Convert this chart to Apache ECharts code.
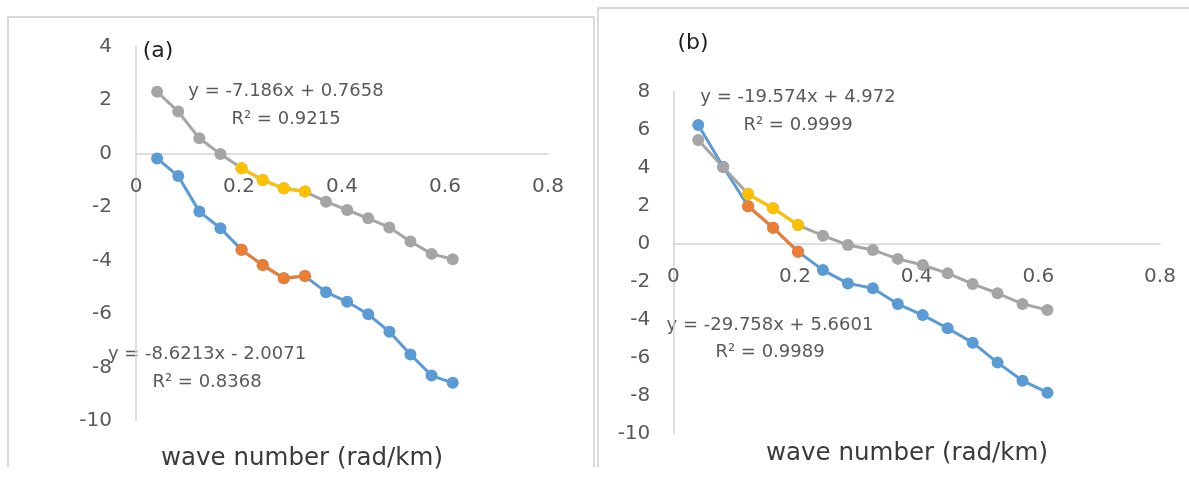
<!DOCTYPE html>
<html>
<head>
<meta charset="utf-8">
<script src="https://cdn.jsdelivr.net/npm/echarts@6/dist/echarts.min.js"></script>
<style>
  html, body { margin: 0; padding: 0; background: #ffffff; }
  #chart { width: 1189px; height: 485px; }
</style>
</head>
<body>
<div id="chart"></div>
<script>
// Wave numbers (rad/km) shared by both spectra
const waveNumber = [0.041, 0.082, 0.123, 0.164, 0.205, 0.246, 0.287, 0.328,
                    0.369, 0.410, 0.451, 0.492, 0.533, 0.574, 0.615];

// Panel (a): LN(P(K)^1/2)
const aLower = [-0.19, -0.85, -2.18, -2.80, -3.61, -4.18, -4.67, -4.59,
                -5.19, -5.55, -6.02, -6.67, -7.52, -8.31, -8.58];
const aUpper = [2.30, 1.56, 0.56, -0.03, -0.56, -1.00, -1.31, -1.43,
                -1.81, -2.12, -2.43, -2.77, -3.30, -3.76, -3.96];
const aFitRange = [4, 8];   // indices of the fitted segment

// Panel (b): LN(P(K)^1/2/k)
const bLower = [6.23, 4.03, 1.95, 0.82, -0.44, -1.41, -2.11, -2.37,
                -3.20, -3.78, -4.47, -5.23, -6.28, -7.23, -7.86];
const bUpper = [5.44, 4.00, 2.59, 1.84, 0.96, 0.40, -0.09, -0.35,
                -0.82, -1.14, -1.58, -2.14, -2.63, -3.19, -3.51];
const bFitRange = [2, 5];

// Axis ticks
const xTicks = { min: 0, max: 0.8, interval: 0.2 };
const yTicksA = { min: -10, max: 4, interval: 2 };
const yTicksB = { min: -10, max: 8, interval: 2 };

// Trendline labels
const eqA1 = ['y = -7.186x + 0.7658', 'R² = 0.9215'];
const eqA2 = ['y = -8.6213x - 2.0071', 'R² = 0.8368'];
const eqB1 = ['y = -19.574x + 4.972', 'R² = 0.9999'];
const eqB2 = ['y = -29.758x + 5.6601', 'R² = 0.9989'];

const BLUE = '#5B9BD5', ORANGE = '#ED7D31', GRAY = '#A5A5A5', YELLOW = '#FFC000';
const FONT = 'DejaVu Sans';
const TICK_COLOR = '#595959';

// Plot-area boxes in pixels
const gridA = { left: 136, top: 46.3, width: 412, height: 374.5 };
const gridB = { left: 673.3, top: 91.3, width: 486.7, height: 342 };

function pairs(ys, range) {
  const from = range ? range[0] : 0;
  const to = range ? range[1] : ys.length;
  const out = [];
  for (let i = from; i < to; i++) out.push([waveNumber[i], ys[i]]);
  return out;
}

function lineSeries(name, idx, ys, range, color) {
  return {
    name: name, type: 'line', xAxisIndex: idx, yAxisIndex: idx,
    data: pairs(ys, range),
    symbol: 'circle', symbolSize: 12,
    lineStyle: { color: color, width: 3 },
    itemStyle: { color: color },
    emphasis: { disabled: true },
    animation: false
  };
}

// x labels sit just under the zero line, so pull them up from the grid bottom
function xAxisDef(idx, grid, yt) {
  const zeroFromBottom = grid.height * (0 - yt.min) / (yt.max - yt.min);
  return {
    type: 'value', gridIndex: idx,
    min: xTicks.min, max: xTicks.max, interval: xTicks.interval,
    axisLine: { show: true, onZero: true, lineStyle: { color: '#d4d4d4', width: 1.5 } },
    axisTick: { show: false },
    splitLine: { show: false },
    axisLabel: { margin: 23 - zeroFromBottom, fontFamily: FONT, fontSize: 20, color: TICK_COLOR,
                 showMinLabel: true, showMaxLabel: true, hideOverlap: false }
  };
}

function yAxisDef(idx, t, margin) {
  return {
    type: 'value', gridIndex: idx,
    min: t.min, max: t.max, interval: t.interval,
    axisLine: { show: true, onZero: false, lineStyle: { color: '#d4d4d4', width: 1.5 } },
    axisTick: { show: false },
    splitLine: { show: false },
    axisLabel: { margin: margin, fontFamily: FONT, fontSize: 20, color: TICK_COLOR }
  };
}

function text(str, x, y, size, color, extra) {
  return Object.assign({
    type: 'text', x: x, y: y, silent: true,
    style: { text: str, fontFamily: FONT, fontSize: size, fill: color,
             align: 'center', verticalAlign: 'middle' }
  }, extra || {});
}

const chart = echarts.init(document.getElementById('chart'), null, { renderer: 'canvas' });

chart.setOption({
  backgroundColor: '#ffffff',
  animation: false,
  grid: [gridA, gridB],
  xAxis: [xAxisDef(0, gridA, yTicksA), xAxisDef(1, gridB, yTicksB)],
  yAxis: [yAxisDef(0, yTicksA, 24), yAxisDef(1, yTicksB, 23)],
  series: [
    lineSeries('a-lower', 0, aLower, null, BLUE),
    lineSeries('a-upper', 0, aUpper, null, GRAY),
    lineSeries('a-lower-fit', 0, aLower, aFitRange, ORANGE),
    lineSeries('a-upper-fit', 0, aUpper, aFitRange, YELLOW),
    lineSeries('b-lower', 1, bLower, null, BLUE),
    lineSeries('b-upper', 1, bUpper, null, GRAY),
    lineSeries('b-lower-fit', 1, bLower, bFitRange, ORANGE),
    lineSeries('b-upper-fit', 1, bUpper, bFitRange, YELLOW)
  ],
  graphic: [
    // chart frames
    { type: 'polyline', silent: true, shape: { points: [[8, 467], [8, 17], [594, 17], [594, 467]] },
      style: { stroke: '#d9d9d9', lineWidth: 2, fill: null } },
    { type: 'polyline', silent: true, shape: { points: [[598, 467], [598, 8], [1189, 8]] },
      style: { stroke: '#d9d9d9', lineWidth: 2, fill: null } },

    // panel tags
    text('(a)', 158, 51, 22, '#1f1f1f'),
    text('(b)', 693, 43, 22, '#1f1f1f'),

    // trendline equations
    text(eqA1[0], 286, 91, 18, TICK_COLOR),
    text(eqA1[1], 286, 119, 18, TICK_COLOR),
    text(eqA2[0], 207, 354, 18, TICK_COLOR),
    text(eqA2[1], 207, 382, 18, TICK_COLOR),
    text(eqB1[0], 798, 97.5, 18, TICK_COLOR),
    text(eqB1[1], 798, 125, 18, TICK_COLOR),
    text(eqB2[0], 770, 325, 18, TICK_COLOR),
    text(eqB2[1], 770, 352, 18, TICK_COLOR),

    // axis titles
    text('wave number (rad/km)', 302, 459, 24.5, '#3a3a3a'),
    text('wave number (rad/km)', 907, 454, 24.5, '#3a3a3a'),
    text('LN(P(K)^1/2)', 60, 233, 21, TICK_COLOR, { rotation: Math.PI / 2, originX: 60, originY: 233 }),
    text('LN(P(K)^1/2/k)', 620, 262, 21, TICK_COLOR, { rotation: Math.PI / 2, originX: 620, originY: 262 })
  ]
});
</script>
</body>
</html>
